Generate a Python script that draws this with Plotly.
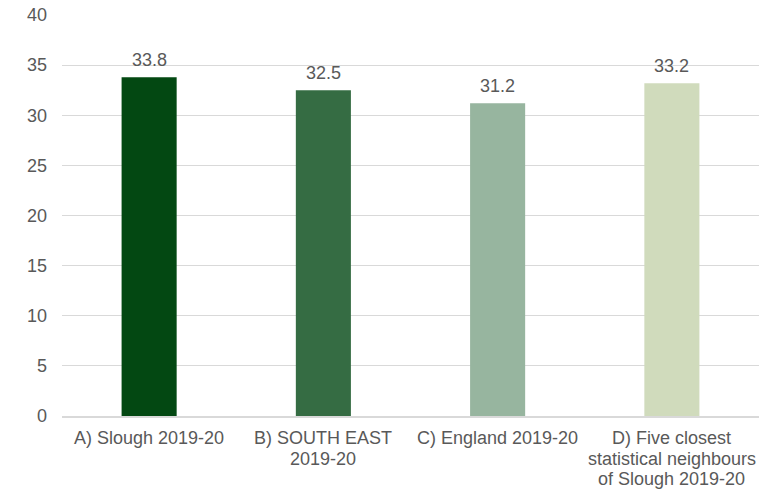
import plotly.graph_objects as go

# Category labels (one list entry per wrapped line) and values
category_keys = ["A", "B", "C", "D"]
category_lines = [
    ["A) Slough 2019-20"],
    ["B) SOUTH EAST", "2019-20"],
    ["C) England 2019-20"],
    ["D) Five closest", "statistical neighbours", "of Slough 2019-20"],
]
values = [33.8, 32.5, 31.2, 33.2]
bar_colors = ["#034812", "#356C43", "#97B59F", "#D0DBBC"]
y_ticks = [0, 5, 10, 15, 20, 25, 30, 35, 40]

font_family = "Liberation Sans, Arial, sans-serif"
text_color = "#595959"
font_size = 18

fig = go.Figure(
    go.Bar(
        x=category_keys,
        y=values,
        marker=dict(color=bar_colors, line=dict(width=0)),
        hovertext=[" ".join(lines) for lines in category_lines],
        cliponaxis=False,
    )
)

annotations = []
# value labels above each bar
for key, v in zip(category_keys, values):
    annotations.append(dict(
        x=key, y=v, xref="x", yref="y",
        text=f"{v:.1f}", showarrow=False,
        yanchor="middle", yshift=17,
        font=dict(family=font_family, size=font_size, color=text_color),
    ))
# category labels under the axis, one line at a time
for key, lines in zip(category_keys, category_lines):
    for i, line in enumerate(lines):
        annotations.append(dict(
            x=key, y=0, xref="x", yref="paper",
            text=line, showarrow=False,
            yanchor="middle", yshift=-(22 + 20.7 * i),
            font=dict(family=font_family, size=font_size, color=text_color),
        ))

fig.update_layout(
    width=761,
    height=493,
    margin=dict(l=62, r=2, t=15, b=77),
    paper_bgcolor="white",
    plot_bgcolor="white",
    bargap=0.684,
    showlegend=False,
    font=dict(family=font_family, size=font_size, color=text_color),
    annotations=annotations,
)

fig.update_yaxes(
    range=[0, 40],
    tickvals=y_ticks,
    showgrid=True,
    gridcolor="#D9D9D9",
    gridwidth=1,
    zeroline=False,
    showline=False,
    ticks="",
    ticklabelstandoff=14,
    tickfont=dict(family=font_family, size=font_size, color=text_color),
)

fig.update_xaxes(
    showline=True,
    linecolor="#D9D9D9",
    linewidth=2,
    ticks="",
    showticklabels=False,
)

fig.write_html("out.html")
